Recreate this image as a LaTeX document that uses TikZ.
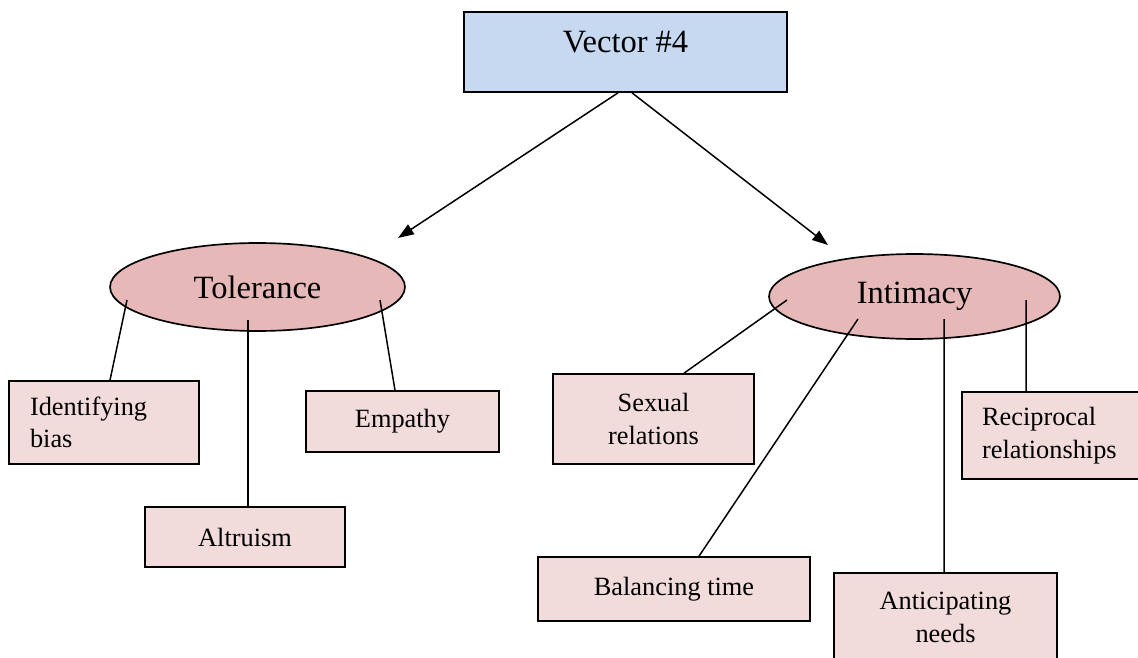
\documentclass[tikz,border=0pt]{standalone}
\usepackage{fontspec}
\setmainfont{Liberation Serif}
\usetikzlibrary{calc,shapes.geometric,arrows.meta}
\definecolor{vecblue}{HTML}{C6D9F1}
\definecolor{ellred}{HTML}{E6B8B7}
\definecolor{boxred}{HTML}{F2DCDB}
\tikzset{
	bigtext/.style={font=\fontsize{18.5}{22}\selectfont},
	smalltext/.style={font=\fontsize{15}{18.5}\selectfont},
	topbox/.style={draw, line width=0.95pt, fill=vecblue, inner sep=0pt},
	ellnode/.style={ellipse, draw, line width=0.95pt, fill=ellred, inner sep=0pt, bigtext},
	leafbox/.style={draw, line width=0.95pt, fill=boxred, inner sep=0pt, smalltext, align=center},
	leftbox/.style={leafbox, align=left},
	link/.style={line width=0.85pt},
	arrowlink/.style={line width=0.85pt, -{Triangle[length=9pt,width=6.5pt]}}
}

\begin{document}
\begin{tikzpicture}[x=0.02cm, y=-0.02cm]
			%%%%% START %%%%%
			\useasboundingbox (0, 0) rectangle (1138, 658);
			\clip (0, 0) rectangle (1138, 658);
			
			\node[topbox, minimum width=6.46cm, minimum height=1.6cm,
			      label={[bigtext, yshift=0.2cm]center:Vector \#4}] (vec) at (625.5, 52) {};
			
			\node[ellnode, minimum width=5.9cm, minimum height=1.76cm] (tol) at (257.5, 287) {Tolerance};
			\node[ellnode, minimum width=5.82cm, minimum height=1.7cm] (int) at (914.5, 296.5) {Intimacy};
			
			\coordinate (tolin) at (398, 238);
			\coordinate (intin) at (828, 245);
			\draw[arrowlink] ($(vec.south)+(-7.5, 0)$) -- (tolin);
			\draw[arrowlink] ($(vec.south)+(6.5, 0)$) -- (intin);
			
			% tolerance side
			\node[leftbox, text width=2.96cm, inner xsep=0.42cm, minimum height=1.66cm] (idb) at (104, 422.5) {Identifying\\bias};
			\node[leafbox, minimum width=3.86cm, minimum height=1.22cm] (emp) at (402.5, 421.5) {Empathy};
			\node[leafbox, minimum width=4cm, minimum height=1.2cm] (alt) at (245, 537) {Altruism};
			
			\draw[link] ($(tol.center)+(-130.5, 13)$) -- ($(idb.north)+(6, 0)$);
			\draw[link] ($(tol.center)+(-9.5, 33)$) -- ($(alt.north)+(3, 0)$);
			\draw[link] ($(tol.center)+(122.5, 13)$) -- ($(emp.north)+(-7.5, 0)$);
			
			% intimacy side
			\node[leafbox, minimum width=4.02cm, minimum height=1.8cm] (sex) at (653.5, 419) {Sexual\\relations};
			\node[leafbox, minimum width=5.44cm, minimum height=1.28cm] (bal) at (674, 589) {Balancing time};
			\node[leafbox, minimum width=4.46cm, minimum height=1.78cm] (ant) at (945.5, 617.5) {Anticipating\\needs};
			\node[leftbox, text width=3.16cm, inner xsep=0.4cm, minimum height=1.74cm] (rec) at (1061, 435.5) {Reciprocal\\relationships};
			
			\draw[link] ($(int.center)+(-127.5, 3.5)$) -- ($(sex.north)+(30.5, 0)$);
			\draw[link] ($(int.center)+(-56.5, 22.5)$) -- ($(bal.north)+(25, 0)$);
			\draw[link] ($(int.center)+(29.5, 22.5)$) -- ($(ant.north)+(-1.5, 0)$);
			\draw[link] ($(int.center)+(111.5, 3.5)$) -- ($(rec.north)+(-35, 0)$);
			
			%%%%% END %%%%%
\end{tikzpicture}
\end{document}
